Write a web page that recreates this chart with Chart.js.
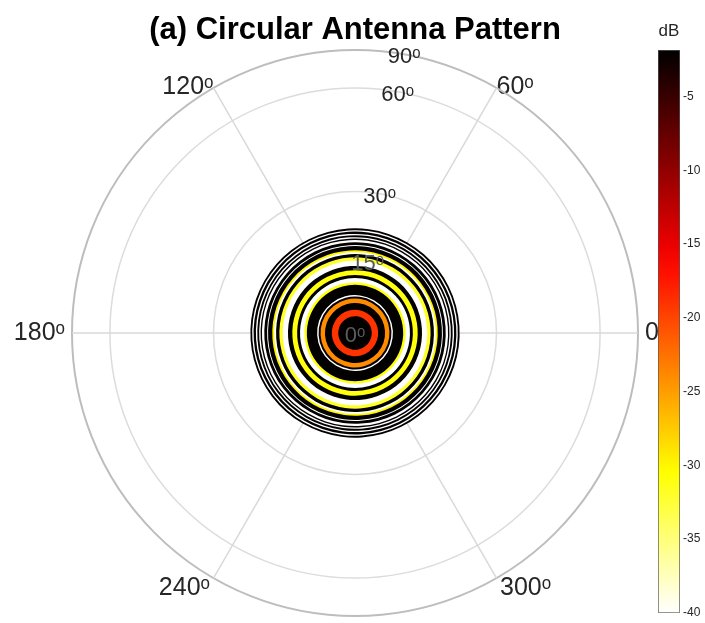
<!DOCTYPE html>
<html>
<head>
<meta charset="utf-8">
<style>
  html, body { margin: 0; padding: 0; background: #fff; overflow: hidden; }
  #wrap { position: relative; width: 705px; height: 623px; overflow: hidden; background: #fff; }
  #polarBox { position: absolute; left: 0; top: 0; width: 710px; height: 623px; }
  #barBox { position: absolute; left: 645px; top: 0; width: 60px; height: 623px; }
</style>
<script src="https://cdn.jsdelivr.net/npm/chart.js@4.4.1/dist/chart.umd.min.js"></script>
</head>
<body>
<div id="wrap">
  <div id="polarBox"><canvas id="polar"></canvas></div>
  <div id="barBox"><canvas id="cbar"></canvas></div>
</div>
<script>
// azimuth labels, clockwise starting at the 60 deg spoke
var azimuthLabels = ['60ᵒ', '0ᵒ', '300ᵒ', '240ᵒ', '180ᵒ', '120ᵒ'];
// elevation rings of the radial axis (deg)
var radialTicks = [0, 15, 30, 60, 90];
// contour bands, inner to outer: outer edge elevation (deg) and level (dB)
var bandElevation = [3.4, 4.7, 6.1, 7.0, 7.4, 7.7, 9.8, 10.3, 11.2, 11.8, 12.8, 13.7, 14.8, 15.5,
                     16.2, 16.6, 17.0, 17.9, 18.1, 18.7, 19.2, 19.5, 19.8, 20.2, 20.5, 21.0, 21.3, 21.7];
var bandLevel = [-2, -19, -2, -24, -2, -40, -2, -31, -40, -2, -31, -2, -40, -32,
                 -2, -40, -30, -2, -40, -2, -40, -2, -40, -2, -40, -2, -40, -2];
// colour bar
var cbarMin = -40;
var cbarMax = -1.85;
var cbarTicks = [-40, -35, -30, -25, -20, -15, -10, -5];

Chart.defaults.font.family = '"Liberation Sans", Arial, sans-serif';
Chart.defaults.color = '#262626';

var DEG = Math.PI / 180;

// flipped "hot" colormap: black at the top of the bar, white at the bottom
function hot(db) {
  var q = (cbarMax - db) / (cbarMax - cbarMin);
  q = Math.max(0, Math.min(1, q));
  var r = Math.min(1, q / 0.375);
  var g = Math.max(0, Math.min(1, (q - 0.375) / 0.375));
  var b = Math.max(0, Math.min(1, (q - 0.75) / 0.25));
  return 'rgb(' + Math.round(r * 255) + ',' + Math.round(g * 255) + ',' + Math.round(b * 255) + ')';
}

var bands = [];
for (var i = 0; i < bandElevation.length; i++) {
  bands.push({
    data: [Math.sin(bandElevation[i] * DEG)],
    backgroundColor: hot(bandLevel[i]),
    borderWidth: 0
  });
}

// elevation labels drawn upright along the 80 deg ray, like the original
var radialLabels = {
  id: 'radialLabels',
  afterDatasetsDraw: function(chart) {
    var s = chart.scales.r;
    var ctx = chart.ctx;
    ctx.save();
    ctx.font = '22px "Liberation Sans", Arial, sans-serif';
    ctx.textAlign = 'center';
    ctx.textBaseline = 'middle';
    radialTicks.forEach(function(t, k) {
      var d = s.getDistanceFromCenterForValue(Math.sin(t * DEG));
      ctx.fillStyle = k < 2 ? '#5c5c5c' : '#262626';
      ctx.fillText(t + 'ᵒ', s.xCenter + d * Math.sin(10 * DEG), s.yCenter - d * Math.cos(10 * DEG) + 3);
    });
    ctx.restore();
  }
};

function isTop(i) { return i === 0 || i === 5; }
function isBottom(i) { return i === 2 || i === 3; }

new Chart(document.getElementById('polar'), {
  type: 'polarArea',
  data: { labels: azimuthLabels, datasets: bands },
  plugins: [radialLabels],
  options: {
    responsive: true,
    maintainAspectRatio: false,
    animation: false,
    events: [],
    layout: { padding: { top: 0, right: 0, bottom: 7, left: 0 } },
    plugins: {
      legend: { display: false },
      tooltip: { enabled: false },
      title: {
        display: true,
        text: '(a) Circular Antenna Pattern',
        color: '#000',
        font: { size: 31, weight: 'bold' },
        padding: { top: 11.4, bottom: 1.4 }
      }
    },
    scales: {
      r: {
        min: 0,
        max: 1,
        startAngle: 30,
        afterBuildTicks: function(s) {
          s.ticks = radialTicks.map(function(t) { return { value: Math.sin(t * DEG) }; });
        },
        ticks: { display: false },
        grid: {
          circular: true,
          color: function(c) { return c.tick && c.tick.value > 0.999 ? '#bdbdbd' : '#dcdcdc'; },
          lineWidth: function(c) { return c.tick && c.tick.value > 0.999 ? 2 : 1.5; }
        },
        angleLines: { display: true, color: '#d9d9d9', lineWidth: 1.5 },
        pointLabels: {
          display: true,
          color: '#262626',
          font: function(c) {
            if (isTop(c.index)) return { size: 25, lineHeight: 0.05 };
            if (isBottom(c.index)) return { size: 25, lineHeight: 0.32 };
            return { size: 25 };
          },
          padding: function(c) {
            if (isTop(c.index)) return 0;
            return 7;
          }
        }
      }
    }
  }
});

new Chart(document.getElementById('cbar'), {
  type: 'bar',
  data: {
    labels: ['dB'],
    datasets: [{
      data: [[cbarMin, cbarMax]],
      backgroundColor: function(c) {
        var area = c.chart.chartArea;
        if (!area) return '#fff';
        var g = c.chart.ctx.createLinearGradient(0, area.bottom, 0, area.top);
        for (var k = 0; k <= 20; k++) {
          g.addColorStop(k / 20, hot(cbarMin + (cbarMax - cbarMin) * k / 20));
        }
        return g;
      },
      borderColor: '#555',
      borderWidth: 1,
      borderSkipped: false,
      barPercentage: 1,
      categoryPercentage: 1
    }]
  },
  options: {
    responsive: true,
    maintainAspectRatio: false,
    animation: false,
    events: [],
    layout: { padding: { top: 0, right: 3, bottom: 8, left: 13 } },
    plugins: {
      legend: { display: false },
      tooltip: { enabled: false },
      title: {
        display: true,
        text: 'dB',
        fullSize: false,
        color: '#262626',
        font: { size: 17, weight: 'normal' },
        padding: { top: 21.5, bottom: 8.1 }
      }
    },
    scales: {
      x: { display: false },
      y: {
        position: 'right',
        min: cbarMin,
        max: cbarMax,
        afterBuildTicks: function(s) {
          s.ticks = cbarTicks.map(function(v) { return { value: v }; });
        },
        grid: { display: false, drawTicks: false },
        border: { display: false },
        ticks: { padding: 3, font: { size: 12 }, color: '#262626' }
      }
    }
  }
});
</script>
</body>
</html>
